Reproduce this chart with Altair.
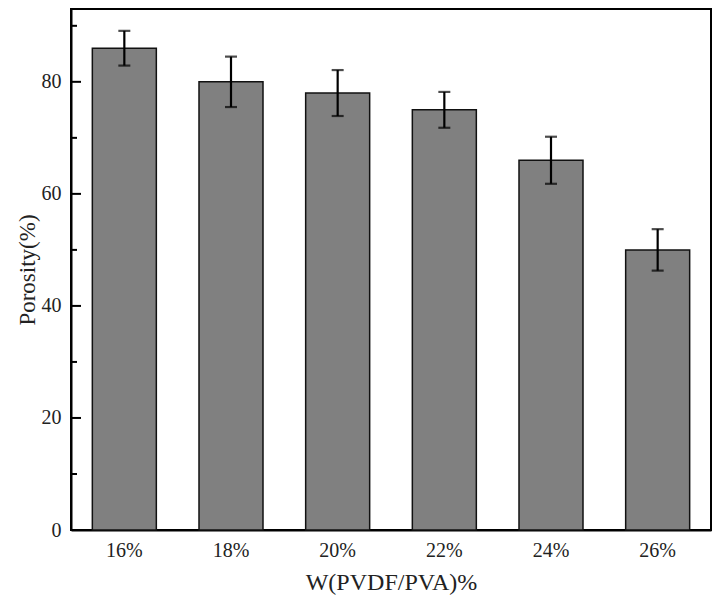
import altair as alt
import pandas as pd

categories = ["16%", "18%", "20%", "22%", "24%", "26%"]
porosity = [86, 80, 78, 75, 66, 50]
errors = [3.1, 4.5, 4.1, 3.2, 4.2, 3.7]
major_ticks = [0, 20, 40, 60, 80]
minor_ticks = [10, 30, 50, 70, 90]

df = pd.DataFrame({"cat": categories, "val": porosity, "err": errors})
df["lo"] = df["val"] - df["err"]
df["hi"] = df["val"] + df["err"]

FONT = "Liberation Serif"
TXT = "#222222"
yscale = alt.Scale(domain=[0, 93], nice=False, zero=True)
xscale = alt.Scale(paddingInner=0.4, paddingOuter=0.2)

base = alt.Chart(df)

bars = base.mark_bar(fill="#808080", stroke="#111111", strokeWidth=1.5).encode(
    x=alt.X("cat:N", sort=categories, scale=xscale, title="W(PVDF/PVA)%",
            axis=alt.Axis(labelAngle=0, ticks=False, labelPadding=10,
                          titlePadding=10, domainColor="black", domainWidth=2,
                          labelFontSize=20, titleFontSize=24,
                          labelFont=FONT, titleFont=FONT, labelColor=TXT,
                          titleColor=TXT, titleFontWeight="normal")),
    y=alt.Y("val:Q", scale=yscale, title="Porosity(%)",
            axis=alt.Axis(values=major_ticks, ticks=False, labelPadding=10,
                          titlePadding=2, domainColor="black", domainWidth=2,
                          labelFontSize=20, titleFontSize=23, grid=False,
                          labelFont=FONT, titleFont=FONT, labelColor=TXT,
                          titleColor=TXT, titleFontWeight="normal")),
)

rules = base.mark_rule(color="black", strokeWidth=2.2).encode(
    x=alt.X("cat:N", sort=categories, scale=xscale),
    y=alt.Y("lo:Q", scale=yscale),
    y2="hi:Q",
)

caps_hi = base.mark_tick(color="black", thickness=2.2, size=12, orient="horizontal").encode(
    x=alt.X("cat:N", sort=categories, scale=xscale),
    y=alt.Y("hi:Q", scale=yscale),
)
caps_lo = base.mark_tick(color="black", thickness=2.2, size=12, orient="horizontal").encode(
    x=alt.X("cat:N", sort=categories, scale=xscale),
    y=alt.Y("lo:Q", scale=yscale),
)

major = alt.Chart(pd.DataFrame({"v": major_ticks})).mark_rule(color="black", strokeWidth=2).encode(
    x=alt.value(0), x2=alt.value(10), y=alt.Y("v:Q", scale=yscale)
)
minor = alt.Chart(pd.DataFrame({"v": minor_ticks})).mark_rule(color="black", strokeWidth=2).encode(
    x=alt.value(0), x2=alt.value(6), y=alt.Y("v:Q", scale=yscale)
)

chart = alt.layer(bars, rules, caps_hi, caps_lo, major, minor).properties(
    width=640, height=521,
    autosize=alt.AutoSizeParams(type="none"),
    padding={"left": 63, "top": 1, "right": 3, "bottom": 68},
    background="white",
).configure_view(
    stroke="black", strokeWidth=2
)

chart.save("out.html", embed_options={"renderer": "svg", "actions": False})
